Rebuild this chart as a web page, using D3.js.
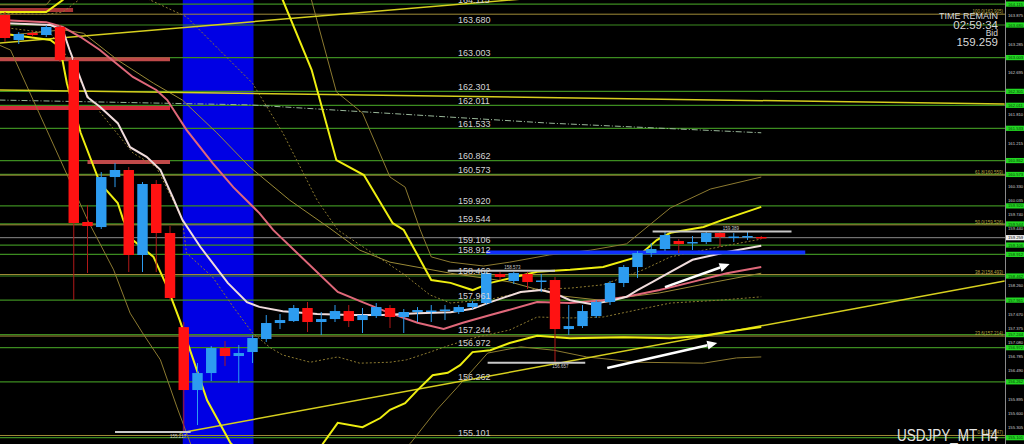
<!DOCTYPE html>
<html>
<head>
<meta charset="utf-8">
<script src="https://cdn.jsdelivr.net/npm/d3@7"></script>
<style>
body{margin:0;background:#000;overflow:hidden}
svg{display:block}
text{font-family:"Liberation Sans",Arial,sans-serif}
</style>
</head>
<body>
<div id="chart"></div>
<script>
// USDJPY H4 candles, [open, high, low, close]
const candles = [
  [163.888,163.950,163.330,163.410],[163.368,163.535,163.285,163.493],[163.514,163.556,163.431,163.472],
  [163.472,163.680,163.431,163.639],[163.639,163.680,162.911,162.953],[162.953,162.990,157.963,159.564],
  [159.585,159.940,158.524,159.501],[159.480,160.624,159.440,160.520],[160.520,160.810,160.310,160.666],
  [160.666,160.728,158.545,158.899],[158.899,160.416,158.545,160.375],[160.375,160.458,158.545,159.356],
  [159.356,159.500,157.963,158.005],[157.400,157.505,155.217,156.092],[156.092,156.653,155.364,156.445],
  [156.445,157.007,156.279,156.965],[156.965,157.111,156.591,156.799],[156.799,157.028,156.237,156.861],
  [156.882,157.235,156.653,157.173],[157.152,157.651,157.090,157.485],[157.485,157.672,157.360,157.547],
  [157.526,157.859,157.506,157.797],[157.797,157.922,157.298,157.506],[157.506,157.714,157.235,157.568],
  [157.568,157.859,157.506,157.734],[157.734,157.859,157.402,157.526],[157.547,157.797,157.277,157.651],
  [157.630,157.901,157.589,157.817],[157.797,157.859,157.381,157.610],[157.610,157.776,157.277,157.714],
  [157.714,157.817,157.506,157.755],[157.724,157.859,157.506,157.745],[157.745,157.859,157.547,157.766],
  [157.714,157.859,157.672,157.817],[157.817,157.942,157.776,157.901],[157.901,158.573,157.859,158.524],
  [158.504,158.545,158.379,158.441],[158.358,158.545,158.296,158.524],[158.504,158.545,158.192,158.337],
  [158.348,158.504,158.129,158.369],[158.379,158.441,156.657,157.360],[157.360,157.859,157.235,157.422],
  [157.422,157.859,157.381,157.734],[157.630,157.963,157.589,157.922],[157.922,158.358,157.859,158.317],
  [158.317,158.691,158.233,158.649],[158.649,158.982,158.420,158.940],[158.940,159.148,158.857,159.023],
  [159.023,159.377,158.982,159.314],[159.190,159.231,158.940,159.127],[159.142,159.294,159.003,159.169],
  [159.169,159.385,159.127,159.356],[159.356,159.389,159.065,159.273],[159.262,159.356,159.169,159.283],
  [159.273,159.377,159.210,159.294],[159.273,159.294,159.231,159.259]
];

// horizontal levels (green lines with labels)
const levelPrices = [164.115,163.680,163.003,162.301,162.011,161.533,160.862,160.573,159.920,159.544,
  159.106,158.912,158.462,157.961,157.244,156.972,156.262,155.101];

const fibLevels = [["100.0",163.905],["61.8",160.559],["50.0",159.526],["38.2",158.493],["23.6",157.214],["0.0",155.147]];

const axisTicks = [155.010,155.305,155.600,155.895,156.195,156.490,156.785,157.080,157.375,157.670,157.965,
  158.260,158.555,158.850,159.145,159.440,159.740,160.035,160.330,160.625,160.920,161.215,161.510,161.810,
  162.105,162.400,162.695,162.990,163.285,163.580,163.875];

const bidPrice = 159.259;

// indicator lines, [bar index, price]
const bbMid = [[0,163.78],[3,163.74],[4.2,163.64],[5.5,163.43],[6.9,163.16],[9.3,162.60],[11,162.33],[11.8,162.12],
  [13.2,161.50],[15.1,160.81],[16.6,160.31],[18.5,159.77],[19.5,159.42],[24.2,158.13],[26,157.92],[28,157.69],
  [30,157.49],[31.9,157.36],[33.3,157.49],[35.3,157.65],[38.7,157.92],[41.1,157.90],[43.5,157.96],[45.2,158.03],
  [47.6,158.17],[50,158.34],[52.5,158.52],[55,158.65]];
const bbUpper1 = [[-0.4,163.92],[3,163.90],[4.2,163.95],[6.9,164.53],[9.8,164.30],[13.2,163.85],[15.6,163.16],
  [18,162.47],[20.2,161.44],[22.7,160.04],[24.2,159.42],[26.6,158.96],[29,158.50],[30.9,158.07],[32.4,157.90],
  [35.3,157.98],[38.7,158.19],[41.1,158.21],[43.5,158.28],[46.4,158.59],[48.4,158.86],[52,159.07],[55,159.23]];
const bbLower1 = [[-0.4,163.64],[3.3,163.51],[4.7,162.95],[6.2,162.12],[9.3,161.02],[11,160.73],[12.2,160.04],
  [12.9,159.63],[13.2,158.94],[15.1,158.44],[16.6,157.82],[18,157.28],[19.3,156.97],[20.2,156.82],[22.2,156.67],
  [24.2,156.78],[25.8,156.65],[28,156.67],[29.2,156.72],[30.7,156.86],[32.4,157.03],[34.3,157.19],[36.7,157.34],
  [38.7,157.61],[41.1,157.59],[43.5,157.61],[46,157.76],[48.4,157.90],[52,157.96],[55,158.03]];
const bbUpper2 = [[-0.4,163.95],[3,163.95],[4.2,164.20],[6.9,165.24],[14.2,165.45],[18.5,164.82],[20.2,164.20],
  [22.3,162.75],[24.1,160.87],[26.1,160.56],[28.2,159.56],[29,159.42],[31,158.38],[32.4,158.32],[34,158.17],
  [35.3,158.32],[38.7,158.55],[41.1,158.59],[43.5,158.65],[46,158.86],[47.4,159.21],[48.4,159.36],[50.8,159.48],
  [52.2,159.63],[55,159.90]];
const bbLower2 = [[-0.4,163.51],[3.3,163.37],[4,163.22],[4.5,162.47],[5.5,161.44],[6.9,160.40],[8.2,159.98],
  [8.6,159.63],[9.3,159.21],[10.8,158.86],[11.8,158.23],[12.7,157.55],[13.7,156.72],[14.7,155.88],[16.4,154.99],
  [19.3,154.22],[22.2,154.64],[23.1,154.97],[24.2,155.41],[26,155.32],[27.3,155.51],[28,155.68],[29.1,155.82],
  [30,156.09],[31.1,156.40],[32.2,156.45],[33.1,156.61],[34,156.88],[35.3,156.92],[36.7,157.07],[38.7,157.22],
  [41.1,157.17],[45,157.19],[48.4,157.17],[50.8,157.22],[52,157.28],[55,157.40]];
const bbUpper3 = [[-0.4,164.10],[3,164.10],[4.2,164.50],[6.9,166.50],[14,167.00],[18,166.00],[21.5,165.03],
  [24.1,162.29],[26,161.85],[28,160.52],[29.1,160.31],[30.2,159.42],[31,158.86],[32.4,158.75],[34.8,158.67],
  [36.7,158.75],[39.6,158.90],[42.6,159.00],[45.2,159.13],[48.4,159.88],[51.3,160.27],[55,160.52]];
const bbLower3 = [[-0.4,163.26],[0.4,163.16],[6,159.63],[7.9,158.59],[9.1,157.69],[10,157.28],[11.3,156.72],
  [12.5,155.74],[13.5,154.97],[17.8,153.39],[23.6,153.39],[29.5,154.99],[31.4,155.68],[32.9,156.15],[35.1,156.86],
  [37.5,156.99],[39.9,156.92],[42.3,156.78],[46,156.67],[50.8,156.65],[53.2,156.76],[55,156.78]];
const maFast = [[-0.4,163.72],[3.3,163.68],[4.2,163.58],[4.7,163.16],[6,162.18],[6.9,161.98],[8.2,161.64],
  [9.1,161.14],[10.3,160.94],[11.3,160.67],[12.2,160.10],[12.9,159.63],[14.2,159.07],[16.2,158.32],[17.6,157.92],
  [18.5,157.82],[20.2,157.73],[22.7,157.67],[25.1,157.65],[27.5,157.65],[30,157.69],[32.4,157.71],[34,157.78],
  [35.3,157.92],[37.5,158.13],[39,158.17],[39.9,158.11],[41.1,157.96],[42.6,157.88],[44,157.94],[45.2,158.03],
  [46,158.17],[47.1,158.34],[48.4,158.55],[50,158.80],[52.5,158.96],[55,159.09]];
const maSlow = [[-0.4,163.45],[4.2,163.58],[5.7,163.51],[8.2,162.95],[10.8,162.47],[12.9,162.12],[15.4,161.44],
  [17.8,160.73],[20.7,160.04],[23.6,159.46],[25.8,159.00],[28,158.75],[32.4,158.52],[36.7,158.34],[40.4,158.05],
  [43.3,157.96],[47.6,158.11],[51.3,158.32],[55,158.52]];
const maLong = [[-0.4,162.12],[17.8,162.02],[39.6,161.64],[55,161.44]];

// drawn objects
const trendLines = [
  [[12.7,155.198],[72.7,158.358]],
  [[-0.4,163.306],[38,164.230]],
  [[-0.4,162.329],[72.7,162.038]]
];
const redZones = [[-0.4,4.95,163.99],[-0.4,12,162.97],[-0.4,12,161.955],[6,12,160.83]];
const blueBand = [13,18];
const blueSupport = [35,58.2,158.95];
const hiLoMarks = [
  {from:8,to:13.5,price:155.217,at:12.6,side:1},
  {from:32.2,to:40,price:158.573,at:36.9,side:-1},
  {from:35.1,to:42.2,price:156.657,at:40.4,side:1},
  {from:47.1,to:57.2,price:159.389,at:52.8,side:-1}
];
const arrows = [
  [[48,158.23],[52.7,158.71]],
  [[43.8,156.55],[51.8,157.07]]
];

const width = 1024, height = 444, plotRight = 1005;

const svg = d3.select("#chart").append("svg")
  .attr("width", width).attr("height", height);
svg.append("rect").attr("width", width).attr("height", height).attr("fill", "#000");

const x = d3.scaleLinear().domain([0, 55]).range([5, 761.25]);
const y = d3.scaleLinear().domain([154.97, 164.20]).range([height, 0]);
const step = x(1) - x(0);

svg.append("clipPath").attr("id", "plot")
  .append("rect").attr("width", plotRight).attr("height", height);
const g = svg.append("g").attr("clip-path", "url(#plot)");

// blue time zone
g.append("rect")
  .attr("x", x(blueBand[0]) - 1)
  .attr("width", x(blueBand[1]) - x(blueBand[0]) + 2)
  .attr("y", 0).attr("height", height)
  .attr("fill", "#0000e4");

// level lines
g.selectAll(".lvl").data(levelPrices).enter().append("line")
  .attr("x1", 0).attr("x2", plotRight)
  .attr("y1", d => y(d)).attr("y2", d => y(d))
  .attr("stroke", "#3c8c20").attr("stroke-width", 1.2);

// fibo lines
g.selectAll(".fib").data(fibLevels).enter().append("line")
  .attr("x1", 0).attr("x2", plotRight)
  .attr("y1", d => y(d[1])).attr("y2", d => y(d[1]))
  .attr("stroke", "#a08c38").attr("stroke-width", 1);

// bid line
g.append("line")
  .attr("x1", 0).attr("x2", plotRight)
  .attr("y1", y(bidPrice)).attr("y2", y(bidPrice))
  .attr("stroke", "#8a8a8a").attr("stroke-width", 1);

// red zones
g.selectAll(".zone").data(redZones).enter().append("line")
  .attr("x1", d => x(d[0])).attr("x2", d => x(d[1]))
  .attr("y1", d => y(d[2])).attr("y2", d => y(d[2]))
  .attr("stroke", (d, i) => i === 0 ? "#a83434" : (i === 2 ? "#d42a3c" : "#c04a4a"))
  .attr("stroke-width", 4);

const line = d3.line().x(d => x(d[0])).y(d => y(d[1]));

function drawLine(data, color, w, dash) {
  g.append("path").datum(data)
    .attr("fill", "none")
    .attr("stroke", color)
    .attr("stroke-width", w)
    .attr("stroke-dasharray", dash || null)
    .attr("d", line);
}

drawLine(maLong, "#9ab89a", 1, "6,2,1,2");
drawLine(bbUpper3, "#8c7a30", 1);
drawLine(bbLower3, "#8c7a30", 1);
drawLine(bbUpper1, "#8c7a30", 1, "2,2");
drawLine(bbLower1, "#8c7a30", 1, "2,2");
drawLine(maSlow, "#9a8a36", 1);

// trend lines
trendLines.forEach(t => drawLine(t, "#d6cf1e", 1.5));

drawLine(bbUpper2, "#eeee10", 2);
drawLine(bbLower2, "#eeee10", 2);
drawLine(bbMid, "#e0687a", 2);
drawLine(maFast, "#f0dcdc", 2);

// blue support line
g.append("line")
  .attr("x1", x(blueSupport[0])).attr("x2", x(blueSupport[1]))
  .attr("y1", y(blueSupport[2])).attr("y2", y(blueSupport[2]))
  .attr("stroke", "#1030ff").attr("stroke-width", 4);

// candles
const bodyW = step * 0.76;
const cg = g.selectAll(".candle").data(candles).enter().append("g");
cg.append("line")
  .attr("x1", (d, i) => x(i)).attr("x2", (d, i) => x(i))
  .attr("y1", d => y(d[1])).attr("y2", d => y(d[2]))
  .attr("stroke", d => d[3] >= d[0] ? "#2d9cf0" : "#b01818")
  .attr("stroke-width", 1);
cg.append("rect")
  .attr("x", (d, i) => x(i) - bodyW / 2)
  .attr("width", bodyW)
  .attr("y", d => y(Math.max(d[0], d[3])))
  .attr("height", d => Math.max(1.5, Math.abs(y(d[0]) - y(d[3]))))
  .attr("fill", d => d[3] >= d[0] ? "#2d9cf0" : "#ff1212");

// high / low marks
g.selectAll(".hl").data(hiLoMarks).enter().append("line")
  .attr("x1", d => x(d.from)).attr("x2", d => x(d.to))
  .attr("y1", d => y(d.price)).attr("y2", d => y(d.price))
  .attr("stroke", "#c8c8c8").attr("stroke-width", 2);
g.selectAll(".hlt").data(hiLoMarks).enter().append("text")
  .attr("x", d => x(d.at)).attr("y", d => y(d.price) + (d.side > 0 ? 5.5 : -1.5))
  .attr("text-anchor", "middle")
  .attr("font-size", 4.5).attr("fill", "#c8c8c8")
  .text(d => d.price.toFixed(3));

// arrows
arrows.forEach(a => {
  const x1 = x(a[0][0]), y1 = y(a[0][1]), x2 = x(a[1][0]), y2 = y(a[1][1]);
  const ang = Math.atan2(y2 - y1, x2 - x1);
  const hl = 10, hw = 4.5;
  const bx = x2 - hl * Math.cos(ang), by = y2 - hl * Math.sin(ang);
  g.append("line").attr("x1", x1).attr("y1", y1).attr("x2", bx).attr("y2", by)
    .attr("stroke", "#ffffff").attr("stroke-width", 2.5);
  g.append("path")
    .attr("d", `M${x2},${y2}L${bx - hw * Math.sin(ang)},${by + hw * Math.cos(ang)}L${bx + hw * Math.sin(ang)},${by - hw * Math.cos(ang)}Z`)
    .attr("fill", "#ffffff");
});

// level labels
g.selectAll(".lvlt").data(levelPrices).enter().append("text")
  .attr("x", 458).attr("y", d => y(d) - 1.6)
  .attr("font-size", 9).attr("fill", "#d4d4d4")
  .text(d => d.toFixed(3));

// fibo labels
g.selectAll(".fibt").data(fibLevels).enter().append("text")
  .attr("x", plotRight - 2).attr("y", d => y(d[1]) - 1)
  .attr("text-anchor", "end")
  .attr("font-size", 4.5).attr("fill", "#b8a640")
  .text(d => `${d[0]}(${d[1].toFixed(3)})`);

// price axis
svg.append("line")
  .attr("x1", plotRight + 0.5).attr("x2", plotRight + 0.5)
  .attr("y1", 0).attr("y2", height)
  .attr("stroke", "#8a8a8a").attr("stroke-width", 1);

// tick labels hidden under a price tag are left out, as on the terminal
const tagPrices = levelPrices.concat([bidPrice]);
const visibleTicks = axisTicks.filter(t => tagPrices.every(p => Math.abs(y(p) - y(t)) > 5));
svg.selectAll(".tick").data(visibleTicks).enter().append("text")
  .attr("x", plotRight + 3).attr("y", d => y(d) + 1.5)
  .attr("font-size", 4.2).attr("fill", "#d0d0d0")
  .text(d => d.toFixed(3));

const tags = svg.selectAll(".tag").data(levelPrices).enter().append("g");
tags.append("rect")
  .attr("x", plotRight + 1).attr("width", width - plotRight - 1)
  .attr("y", d => y(d) - 2.6).attr("height", 5.2)
  .attr("fill", "#22d822");
tags.append("text")
  .attr("x", plotRight + 3).attr("y", d => y(d) + 1.6)
  .attr("font-size", 4.2).attr("fill", "#0a3a0a")
  .text(d => d.toFixed(3));

svg.append("rect")
  .attr("x", plotRight + 1).attr("width", width - plotRight - 1)
  .attr("y", y(bidPrice) - 2.6).attr("height", 5.2)
  .attr("fill", "#f0f0f0");
svg.append("text")
  .attr("x", plotRight + 3).attr("y", y(bidPrice) + 1.6)
  .attr("font-size", 4.2).attr("fill", "#000")
  .text(bidPrice.toFixed(3));

// info text
const info = svg.append("g").attr("fill", "#d8d8d8").attr("text-anchor", "end");
info.append("text").attr("x", 998).attr("y", 18.5).attr("font-size", 9).text("TIME REMAIN");
info.append("text").attr("x", 998).attr("y", 29.3).attr("font-size", 11.5).text("02:59:34");
info.append("text").attr("x", 998).attr("y", 36.2).attr("font-size", 8.5).text("Bid");
info.append("text").attr("x", 998).attr("y", 46.3).attr("font-size", 11.5).text(bidPrice.toFixed(3));

svg.append("text")
  .attr("x", 897).attr("y", 441)
  .attr("font-size", 16).attr("fill", "#e4e4e4")
  .attr("textLength", 101).attr("lengthAdjust", "spacingAndGlyphs")
  .text("USDJPY_MT H4");
</script>
</body>
</html>
